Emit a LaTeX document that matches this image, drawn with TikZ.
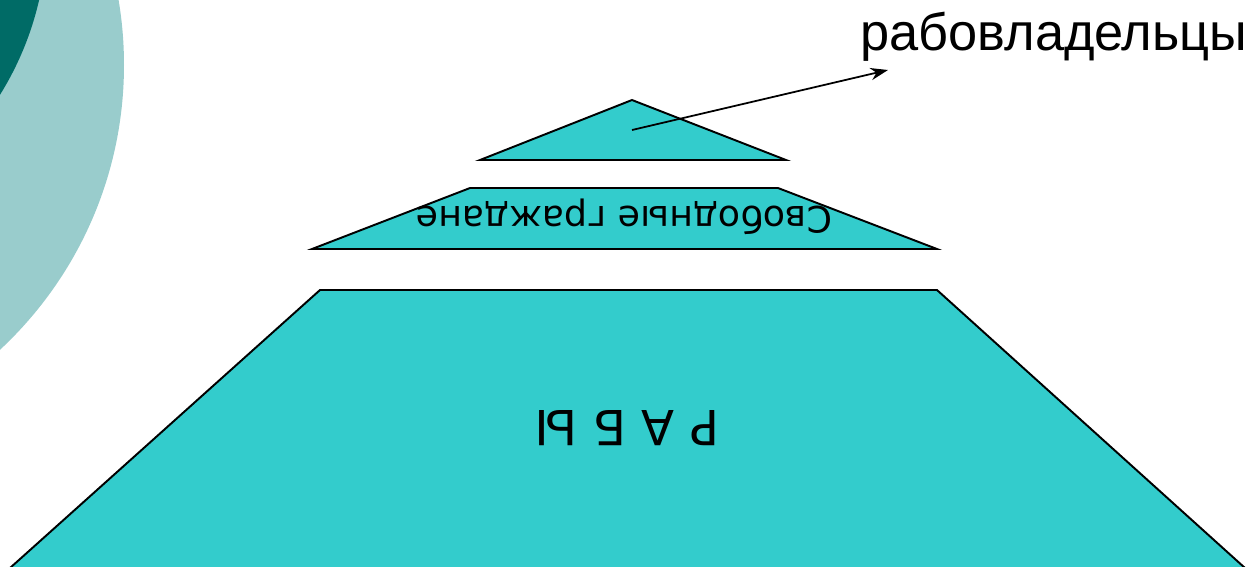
\documentclass[tikz,border=0pt]{standalone}
\usepackage{fontspec}
\setmainfont{DejaVu Sans}
\newfontfamily\arialfont{Liberation Sans}
\usetikzlibrary{arrows.meta}
\definecolor{lightteal}{HTML}{99CCCC}
\definecolor{darkteal}{HTML}{006B66}
\definecolor{pyrfill}{HTML}{33CCCC}
\tikzset{
  tier/.style={fill=pyrfill, draw=black, line width=1.1pt, line join=miter},
  flipped/.style={rotate=180, inner sep=0pt, text=black},
  pointer/.style={-{Stealth[length=10pt,width=7pt]}, line width=1pt, draw=black}
}
\begin{document}
\begin{tikzpicture}[x=0.02cm, y=-0.02cm]
\useasboundingbox (0,0) rectangle (1255,566);
% decorative circles
\begin{scope}
\clip (0,0) rectangle (1255,566);
\fill[lightteal] (-265,65) circle[radius=389];
\fill[darkteal] (-265,-70) circle[radius=312];
\end{scope}
% tiers
\draw[tier] (632,100) -- (786,160) -- (480,160) -- cycle;
\draw[tier] (470,188) -- (778,188) -- (937,249) -- (312,249) -- cycle;
\begin{scope}
\clip (0,0) rectangle (1255,566);
\draw[tier] (320,290) -- (937,290) -- (1245,568) -- (10,568) -- cycle;
\end{scope}
% labels
\node[flipped, font=\fontsize{20.7pt}{24pt}\selectfont] (free) at (624,217) {Свободные граждане};
\node[flipped, font=\fontsize{27.5pt}{32pt}\selectfont] (slaves) at (627,428) {Р А Б Ы};
\node[anchor=base, inner sep=0pt, font=\arialfont\fontsize{29.8pt}{34pt}\selectfont] (owners) at (1054,50) {рабовладельцы};
\coordinate (tip) at (632,130);
\coordinate (head) at (888,70);
\draw[pointer] (tip) -- (head);
\end{tikzpicture}
\end{document}
